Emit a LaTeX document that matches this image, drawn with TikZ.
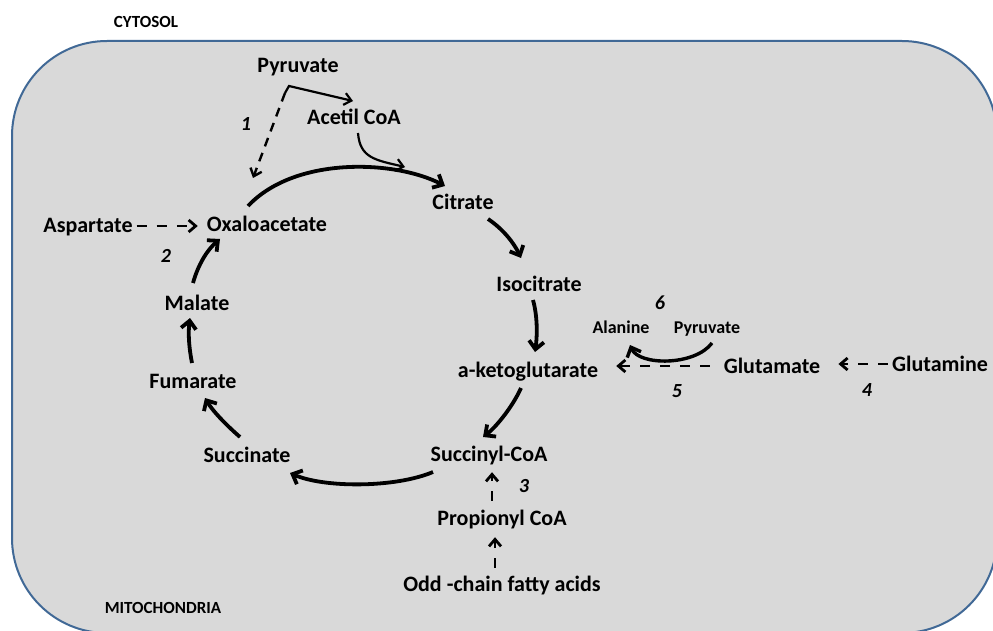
\documentclass[tikz,border=0pt]{standalone}
\usepackage{fontspec}
\setmainfont{Carlito}
\usepackage{tikz}
\usetikzlibrary{arrows.meta}
\definecolor{memb}{RGB}{65,105,150}
\definecolor{mitfill}{RGB}{217,217,217}

\begin{document}
\begin{tikzpicture}[x=1pt,y=1pt,
  met/.style={font=\bfseries\fontsize{22}{24}\selectfont, text height=14pt, text depth=0pt, inner sep=2pt},
  sm/.style={font=\bfseries\fontsize{18}{20}\selectfont, text height=11.6pt, text depth=0pt, inner sep=2pt},
  cmp/.style={font=\bfseries\fontsize{17}{19}\selectfont, text height=11pt, text depth=0pt, inner sep=2pt},
  num/.style={font=\bfseries\itshape\fontsize{20}{22}\selectfont, text height=12.6pt, text depth=0pt, inner sep=2pt},
  cyc/.style={line width=3.8pt, -{Straight Barb[length=8pt,width=15pt]}},
  feed/.style={line width=2.2pt, -{Straight Barb[length=7pt,width=12pt]}},
  anap/.style={line width=2.8pt, dash pattern=on 10pt off 10pt, -{Straight Barb[length=7pt,width=12pt]}}]
\useasboundingbox (0,0) rectangle (993,-631);
\clip (0,0) rectangle (993,-631);
\draw[memb, fill=mitfill, line width=2pt, rounded corners=95pt] (12,-41) rectangle (997,-633);

\node (cyto) at (146,-22) [cmp] {CYTOSOL};
\node (mito) at (163,-608) [cmp] {MITOCHONDRIA};

\node (pyr) at (298,-66) [met] {Pyruvate};
\node (aco) at (354,-118) [met] {Acetil CoA};
\node (cit) at (463,-203) [met] {Citrate};
\node (asp) at (88,-226) [met] {Aspartate};
\node (oxa) at (267,-224) [met] {Oxaloacetate};
\node (iso) at (539,-284) [met] {Isocitrate};
\node (mal) at (197,-303) [met] {Malate};
\node (akg) at (528,-370) [met] {a-ketoglutarate};
\node (fum) at (193,-381) [met] {Fumarate};
\node (suc) at (247,-455) [met] {Succinate};
\node (sca) at (489,-454) [met] {Succinyl-CoA};
\node (pro) at (502,-518) [met] {Propionyl CoA};
\node (odd) at (502,-584) [met] {Odd -chain fatty acids};
\node (glu) at (772,-366) [met] {Glutamate};
\node (gln) at (940,-364) [met] {Glutamine};
\node (ala) at (621,-328) [sm] {Alanine};
\node (pyr2) at (707,-328) [sm] {Pyruvate};

\node (n1) at (246,-124) [num] {1};
\node (n2) at (166,-256) [num] {2};
\node (n3) at (524,-486) [num] {3};
\node (n4) at (867,-390) [num] {4};
\node (n5) at (677,-391) [num] {5};
\node (n6) at (660,-303) [num] {6};

\coordinate (br) at ([shift={(-13,-27)}]pyr.center);
\draw[feed] (br) -- ++(4,7) -- ([shift={(-1,17)}]aco.center);
\draw[anap, line width=2.4pt, dash pattern=on 9pt off 7pt] (br) -- ([shift={(-14,46)}]oxa.center);
\draw[feed] ([shift={(4,-15)}]aco.center) .. controls ([shift={(6,-40)}]aco.center) and ([shift={(21,-42)}]aco.center) .. ([shift={(-58,36)}]cit.center);

\draw[cyc] ([shift={(-19,18)}]oxa.center) .. controls ([shift={(28,68)}]oxa.center) and ([shift={(-68,43)}]cit.center) .. ([shift={(-18,17)}]cit.center);
\draw[cyc] ([shift={(25,-16)}]cit.center) .. controls ([shift={(40,-26)}]cit.center) and ([shift={(-25,41)}]iso.center) .. ([shift={(-18,26)}]iso.center);
\draw[cyc] ([shift={(-6,-16)}]iso.center) .. controls ([shift={(-1,-34)}]iso.center) and ([shift={(9,32)}]akg.center) .. ([shift={(7,18)}]akg.center);
\draw[cyc] ([shift={(-7,-18)}]akg.center) .. controls ([shift={(-16,-38)}]akg.center) and ([shift={(6,26)}]sca.center) .. ([shift={(-6,17)}]sca.center);
\draw[cyc] ([shift={(-56,-18)}]sca.center) .. controls ([shift={(-94,-34)}]sca.center) and ([shift={(77,-33)}]suc.center) .. ([shift={(43,-18)}]suc.center);
\draw[cyc] ([shift={(-7,18)}]suc.center) .. controls ([shift={(-22,31)}]suc.center) and ([shift={(19,-29)}]fum.center) .. ([shift={(12,-17)}]fum.center);
\draw[cyc] ([shift={(-1,18)}]fum.center) .. controls ([shift={(-4,33)}]fum.center) and ([shift={(-9,-30)}]mal.center) .. ([shift={(-7,-15)}]mal.center);
\draw[cyc] ([shift={(-4,20)}]mal.center) .. controls ([shift={(1,38)}]mal.center) and ([shift={(-60,-26)}]oxa.center) .. ([shift={(-47,-15)}]oxa.center);

\draw[cyc, line width=3.4pt] ([shift={(5,-15)}]pyr2.center) .. controls ([shift={(-12,-38)}]pyr2.center) and ([shift={(18,-38)}]ala.center) .. ([shift={(9,-17)}]ala.center);

\draw[anap, shorten <=2pt, shorten >=7pt] (asp.east) -- (asp.east -| oxa.west);
\draw[anap, shorten <=12pt, shorten >=16pt] (glu.west) -- (glu.west -| akg.east);
\draw[anap, shorten <=2pt, shorten >=16pt] (gln.west) -- (gln.west -| glu.east);
\draw[anap, shorten <=8pt, shorten >=9pt] ([xshift=-10pt]pro.north) -- ([xshift=-10pt]pro.north |- sca.south);
\draw[anap, shorten <=7pt, shorten >=10pt] ([xshift=-7pt]odd.north) -- ([xshift=-7pt]odd.north |- pro.south);
\end{tikzpicture}
\end{document}
